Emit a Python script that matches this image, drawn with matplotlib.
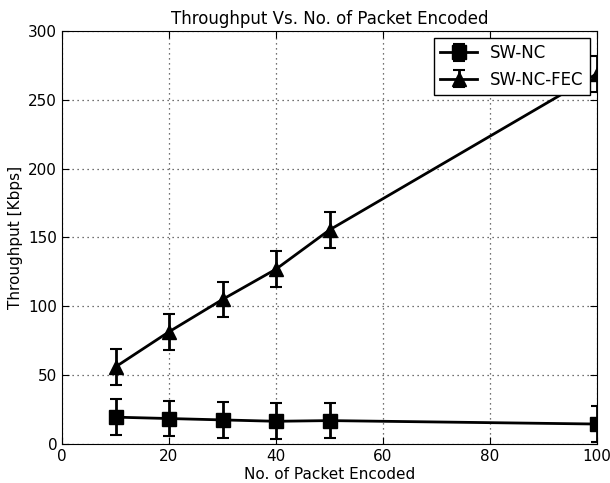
import matplotlib
matplotlib.use('Agg')
import matplotlib.pyplot as plt

packets = [10, 20, 30, 40, 50, 100]
sw_nc = [19.5, 18.5, 17.5, 16.5, 17, 14.5]
sw_nc_err = [13, 13, 13, 13, 13, 13]
sw_nc_fec = [56, 81.5, 105, 127, 155.5, 269]
sw_nc_fec_err = [13, 13, 13, 13, 13, 13]

fig = plt.figure(figsize=(6.1, 4.83), dpi=100)
ax = fig.add_axes([62/610, 1 - 444/483, 535/610, 413/483])

ax.errorbar(packets, sw_nc, yerr=sw_nc_err, color='black', marker='s', markersize=10,
            linewidth=2, elinewidth=2, capsize=4, capthick=1.5, label='SW-NC')
ax.errorbar(packets, sw_nc_fec, yerr=sw_nc_fec_err, color='black', marker='^', markersize=10,
            linewidth=2, elinewidth=2, capsize=4, capthick=1.5, label='SW-NC-FEC')

ax.set_xlim(0, 100)
ax.set_ylim(0, 300)
ax.set_xticks([0, 20, 40, 60, 80, 100])
ax.set_yticks([0, 50, 100, 150, 200, 250, 300])
ax.grid(True, linestyle=(0, (1, 3)), color='#444444', linewidth=0.9)
ax.tick_params(direction='in', top=True, right=True, labelsize=11, length=5)
ax.set_xlabel('No. of Packet Encoded', fontsize=11, labelpad=2)
ax.set_ylabel('Throughput [Kbps]', fontsize=11)
ax.set_title('Throughput Vs. No. of Packet Encoded', fontsize=12, pad=5)
leg = ax.legend(loc='upper right', fontsize=12, fancybox=False, edgecolor='black',
                handlelength=2.2, borderaxespad=0.4, framealpha=1)
leg.get_frame().set_linewidth(1)

fig.savefig('out.png', dpi=100)
